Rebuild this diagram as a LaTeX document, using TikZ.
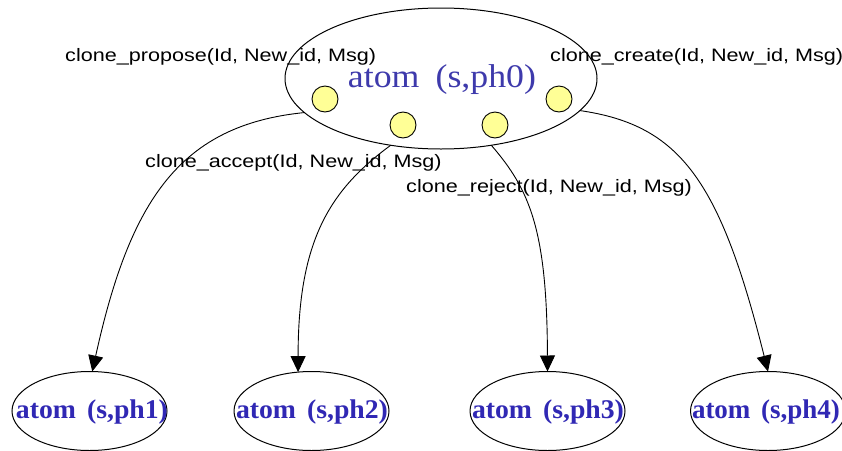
\documentclass[tikz,border=0pt]{standalone}
\usepackage{fontspec}
\setmainfont{Liberation Serif}
\newfontfamily\lsans{Liberation Sans}
\usetikzlibrary{shapes.geometric,arrows.meta}
\definecolor{atomblue}{RGB}{62,58,172}
\definecolor{atomblueb}{RGB}{48,40,180}
\definecolor{ballyellow}{RGB}{255,255,150}
\newcommand{\msglab}[1]{\scalebox{1.2}[1]{\fontsize{18}{18}\lsans\selectfont #1}}
\begin{document}
\begin{tikzpicture}[x=1pt,y=-1pt,
  stateell/.style={ellipse, draw=black, line width=1pt, inner sep=0pt, outer sep=0pt},
  ball/.style={circle, draw=black, line width=0.9pt, fill=ballyellow, minimum size=26pt, inner sep=0pt},
  toptxt/.style={text=atomblue, inner sep=0pt},
  bottxt/.style={text=atomblueb, inner sep=0pt},
  msg/.style={anchor=base west, inner sep=0pt, text=black},
  edge/.style={draw=black, line width=0.9pt, -{Triangle[width=15pt,length=16pt]}}]
\fill[white] (0,0) rectangle (842,450);
\useasboundingbox (0,0) rectangle (842,450);
% nodes
\node[stateell, minimum width=312pt, minimum height=141pt] (top) at (441,78.5) {};
\node[stateell, minimum width=155pt, minimum height=79pt] (p1) at (89.5,411) {};
\node[stateell, minimum width=155pt, minimum height=79pt] (p2) at (311.5,411) {};
\node[stateell, minimum width=155pt, minimum height=79pt] (p3) at (547.5,411) {};
\node[stateell, minimum width=155pt, minimum height=79pt] (p4) at (768,411) {};
\node[toptxt] (t0) at (442,80) {\resizebox{188pt}{\height}{\fontsize{33}{33}\selectfont atom\hspace{0.45em}(s,ph0)}};
\node[bottxt] (t1) at (92,412) {\resizebox{152pt}{\height}{\fontsize{27}{27}\selectfont\bfseries atom\hspace{0.4em}(s,ph1)}};
\node[bottxt] (t2) at (312,412) {\resizebox{152pt}{\height}{\fontsize{27}{27}\selectfont\bfseries atom\hspace{0.4em}(s,ph2)}};
\node[bottxt] (t3) at (548,412) {\resizebox{152pt}{\height}{\fontsize{27}{27}\selectfont\bfseries atom\hspace{0.4em}(s,ph3)}};
\node[bottxt] (t4) at (766,412) {\resizebox{148pt}{\height}{\fontsize{27}{27}\selectfont\bfseries atom\hspace{0.4em}(s,ph4)}};
% yellow balls
\node[ball] (b1) at (325,99) {};
\node[ball] (b2) at (403,125) {};
\node[ball] (b3) at (495,125) {};
\node[ball] (b4) at (559,99) {};
% edges
\draw[edge] (top.194) .. controls (180,125) and (130,200) .. (p1.86);
\draw[edge] (top.233) .. controls (330,190) and (298,240) .. (p2.109);
\draw[edge] (top.307) .. controls (530,190) and (547,230) .. (p3.north);
\draw[edge] (top.347) .. controls (680,125) and (720,180) .. (p4.north);
% labels
\node[msg] (l1) at (65,61) {\msglab{clone\_propose(Id, New\_id, Msg)}};
\node[msg] (l2) at (550,61) {\msglab{clone\_create(Id, New\_id, Msg)}};
\node[msg] (l3) at (145,167) {\msglab{clone\_accept(Id, New\_id, Msg)}};
\node[msg] (l4) at (406,192) {\msglab{clone\_reject(Id, New\_id, Msg)}};
\end{tikzpicture}
\end{document}
